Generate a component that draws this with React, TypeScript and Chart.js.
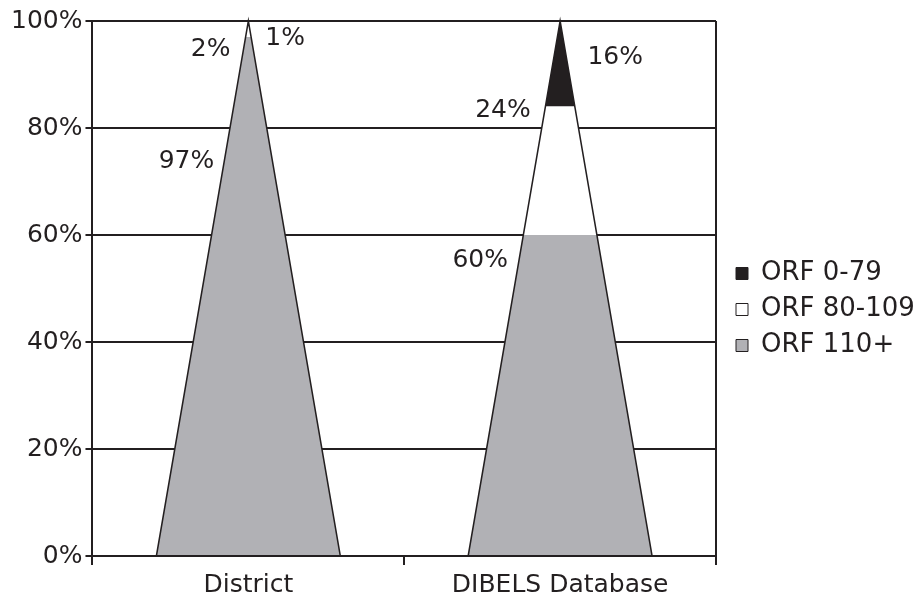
import { useEffect, useRef } from 'react';
import { Chart, registerables } from 'chart.js';

Chart.register(...registerables);

const categories = ['District', 'DIBELS Database'];
const seriesNames = ['ORF 110+', 'ORF 80-109', 'ORF 0-79'];
const orf110 = [97, 60];
const orf80 = [2, 24];
const orf0 = [1, 16];
const yTickValues = [0, 20, 40, 60, 80, 100];

const seriesColors = ['#b1b1b5', '#ffffff', '#231f20'];
const ink = '#231f20';
const FONT = 'DejaVu Sans, Verdana, sans-serif';
const FS = 25;
const LEGEND_FS = 26;

// label placement style: [dataset][category] -> { at: value on y axis, side, gap px }
const labelStyle = [
  [{ at: 73.8, side: 'left', gap: 10 }, { at: 55.3, side: 'left', gap: 11 }],
  [{ at: 94.6, side: 'left', gap: 13 }, { at: 83.3, side: 'left', gap: 14 }],
  [{ at: 96.8, side: 'right', gap: 14 }, { at: 93.1, side: 'right', gap: 21 }],
];

const conePlugin = {
  id: 'cone',
  beforeDatasetsDraw(chart: any) {
    const ctx = chart.ctx;
    const meta = chart.getDatasetMeta(0);
    const ys = chart.scales.y;
    const y0 = ys.getPixelForValue(0);
    const y1 = ys.getPixelForValue(100);
    ctx.save();
    ctx.beginPath();
    meta.data.forEach((bar: any) => {
      const { x, width } = bar.getProps(['x', 'width'], true);
      ctx.moveTo(x - width / 2, y0);
      ctx.lineTo(x, y1);
      ctx.lineTo(x + width / 2, y0);
      ctx.closePath();
    });
    ctx.clip();
  },
  afterDatasetsDraw(chart: any) {
    const ctx = chart.ctx;
    ctx.restore();
    const meta = chart.getDatasetMeta(0);
    const ys = chart.scales.y;
    const y0 = ys.getPixelForValue(0);
    const y1 = ys.getPixelForValue(100);
    const area = chart.chartArea;
    ctx.save();
    ctx.strokeStyle = ink;
    ctx.lineWidth = 1.5;
    meta.data.forEach((bar: any) => {
      const { x, width } = bar.getProps(['x', 'width'], true);
      ctx.beginPath();
      ctx.moveTo(x - width / 2, y0);
      ctx.lineTo(x, y1);
      ctx.lineTo(x + width / 2, y0);
      ctx.closePath();
      ctx.stroke();
    });
    // right border
    ctx.lineWidth = 2;
    ctx.beginPath();
    ctx.moveTo(area.right, area.top);
    ctx.lineTo(area.right, area.bottom);
    ctx.stroke();

    // data labels
    ctx.fillStyle = ink;
    ctx.font = `${FS}px ${FONT}`;
    ctx.textBaseline = 'middle';
    chart.data.datasets.forEach((ds: any, di: number) => {
      const m = chart.getDatasetMeta(di);
      m.data.forEach((bar: any, ci: number) => {
        const st = labelStyle[di][ci];
        const { x, width } = bar.getProps(['x', 'width'], true);
        const py = ys.getPixelForValue(st.at);
        const frac = (y0 - py) / (y0 - y1);
        const half = (width / 2) * (1 - frac);
        const text = `${ds.data[ci]}%`;
        if (st.side === 'left') {
          ctx.textAlign = 'right';
          ctx.fillText(text, x - half - st.gap, py);
        } else {
          ctx.textAlign = 'left';
          ctx.fillText(text, x + half + st.gap, py);
        }
      });
    });
    ctx.restore();
  },
};

export default function App() {
  const ref = useRef<HTMLCanvasElement>(null);
  useEffect(() => {
    if (!ref.current) return;
    const chart = new Chart(ref.current, {
      type: 'bar',
      data: {
        labels: categories,
        datasets: [orf110, orf80, orf0].map((d, i) => ({
          label: seriesNames[i],
          data: d,
          backgroundColor: seriesColors[i],
          borderWidth: 0,
          categoryPercentage: 1,
          barPercentage: 0.59,
        })),
      },
      options: {
        responsive: false,
        animation: false,
        devicePixelRatio: 1,
        layout: { padding: { left: 8, top: 21, right: 0, bottom: 0 } },
        plugins: {
          tooltip: { enabled: false },
          legend: {
            position: 'right',
            reverse: true,
            maxWidth: 189,
            labels: {
              color: ink,
              font: { family: FONT, size: LEGEND_FS },
              boxWidth: 12,
              boxHeight: 12,
              padding: 10,
              generateLabels: (c: any) =>
                Chart.defaults.plugins.legend.labels
                  .generateLabels(c)
                  .map((it: any) => ({ ...it, strokeStyle: ink, lineWidth: 1 })),
            },
          },
        },
        scales: {
          x: {
            stacked: true,
            offset: true,
            grid: {
              offset: true,
              drawOnChartArea: false,
              drawTicks: true,
              tickLength: 9,
              color: ink,
              lineWidth: 2,
            },
            border: { color: ink, width: 2 },
            ticks: { color: ink, font: { family: FONT, size: FS, lineHeight: 1 }, padding: 8 },
            afterFit: (axis: any) => {
              axis.height = 42;
            },
          },
          y: {
            stacked: true,
            min: 0,
            max: 100,
            afterBuildTicks: (axis: any) => {
              axis.ticks = yTickValues.map((v) => ({ value: v }));
            },
            grid: { color: ink, lineWidth: 2, tickLength: 7 },
            border: { color: ink, width: 2 },
            ticks: {
              color: ink,
              font: { family: FONT, size: FS },
              padding: 3,
              callback: (v: any) => `${v}%`,
            },
          },
          spacer: {
            type: 'linear',
            position: 'right',
            display: true,
            grid: { display: false, drawTicks: false },
            ticks: { display: false },
            border: { display: false },
            afterFit: (axis: any) => {
              axis.width = 10;
              axis.paddingTop = 0;
              axis.paddingBottom = 0;
            },
          },
        },
      },
      plugins: [conePlugin],
    });
    return () => chart.destroy();
  }, []);
  return (
    <div style={{ position: 'absolute', left: 0, top: 0, width: 915, height: 598, background: '#fff' }}>
      <canvas ref={ref} width={915} height={598} />
    </div>
  );
}
